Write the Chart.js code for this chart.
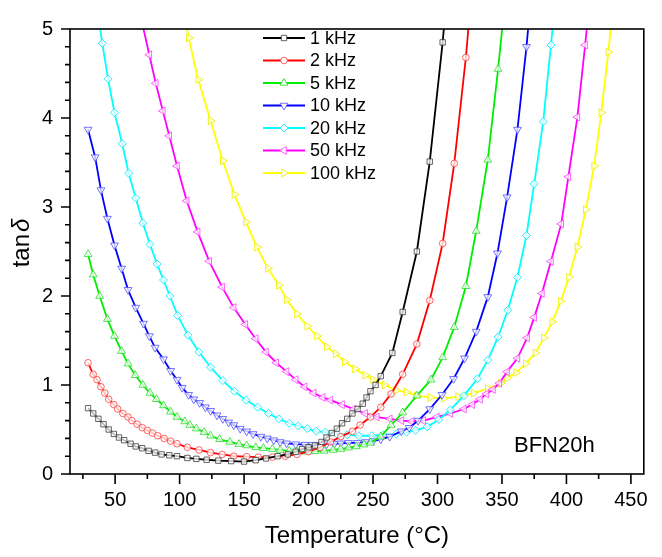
<!DOCTYPE html>
<html>
<head>
<meta charset="utf-8">
<script src="https://cdn.jsdelivr.net/npm/chart.js@4.4.1/dist/chart.umd.min.js"></script>
<style>
  html, body { margin: 0; padding: 0; background: #fff; }
  canvas { display: block; }
</style>
</head>
<body>
<canvas id="grafico" width="662" height="557"></canvas>
<script>
// Frequências (legenda)
const freqLabels = ['1 kHz', '2 kHz', '5 kHz', '10 kHz', '20 kHz', '50 kHz', '100 kHz'];

// Temperatura (°C) e tan δ, uma série por frequência
const temp1k = [29,33,37,41,45,49,53,57,62,66,71,76,81,86,92,98,106,113,121,130,140,150,159,167,176,184,190,195,200,205,210,214,218,222,226,230,234,238,242,245,248,252,256,265,273,284,294,304,312];
const tan1k  = [0.74,0.68,0.62,0.56,0.50,0.45,0.41,0.38,0.34,0.31,0.29,0.26,0.24,0.22,0.21,0.20,0.18,0.17,0.16,0.15,0.145,0.14,0.155,0.175,0.20,0.22,0.25,0.28,0.30,0.32,0.36,0.41,0.46,0.51,0.57,0.62,0.68,0.73,0.79,0.86,0.93,1.00,1.10,1.36,1.82,2.50,3.51,4.85,6.2];

const temp2k = [29,33,36,39,42,45,49,52,56,60,63,67,71,75,79,83,88,93,98,106,115,124,133,142,152,161,172,182,191,200,209,217,225,234,240,248,256,264,273,284,294,304,313,322,330];
const tan2k  = [1.25,1.12,1.06,0.98,0.91,0.84,0.78,0.73,0.68,0.64,0.60,0.56,0.52,0.49,0.46,0.43,0.40,0.37,0.34,0.30,0.27,0.24,0.22,0.20,0.195,0.19,0.19,0.20,0.22,0.25,0.30,0.36,0.42,0.48,0.55,0.64,0.75,0.90,1.12,1.46,1.95,2.59,3.49,4.68,6.0];

const temp5k = [29,33,38,44,49.5,55,60,65.5,71.5,77,82,87.5,93,98,104,108,113,119,124,131,139,146,152,159,165,172,178,185,191,198,205,212,219,225,231,237,243,248,256,264,273,284,295,304,313,322,330,339,347,355];
const tan5k  = [2.47,2.24,2.00,1.74,1.55,1.38,1.24,1.11,1.00,0.91,0.84,0.77,0.70,0.64,0.59,0.55,0.51,0.47,0.43,0.39,0.36,0.335,0.32,0.30,0.29,0.28,0.27,0.26,0.255,0.25,0.255,0.26,0.27,0.28,0.295,0.31,0.33,0.35,0.42,0.55,0.69,0.88,1.06,1.31,1.65,2.11,2.73,3.53,4.55,5.7];

const temp10k = [29,34.5,39,44,49.5,55,60,66,72,76.5,81,87.5,93,98,102,107,111,115.5,120,124,129,133.5,138,142,147,152,157,163,168,173,178,183,190,197,203,209,214,220,225,231,238,244,250,256,263,272,278,285,294,303.5,312.5,321,330,339,346.5,354,362,369,376];
const tan10k  = [3.87,3.56,3.19,2.87,2.57,2.31,2.07,1.87,1.69,1.55,1.42,1.29,1.16,1.06,0.97,0.89,0.84,0.80,0.75,0.71,0.66,0.62,0.58,0.55,0.51,0.48,0.45,0.42,0.40,0.38,0.36,0.345,0.335,0.33,0.33,0.33,0.335,0.34,0.345,0.35,0.35,0.36,0.37,0.39,0.42,0.48,0.52,0.60,0.73,0.89,1.07,1.30,1.60,1.99,2.48,3.11,3.87,4.80,5.9];

const temp20k = [35,40,44.5,49.5,55.5,60.5,66,71.5,77,82.5,87.5,92.5,98.5,106.5,115,124,133.5,142.5,151.5,160.5,169,177,185,192,199,206,213,222,230,239,249,258,268,276,283,292,301,310,320.5,331,339,347,354.5,362,369,375,382,388,394];
const tan20k  = [5.35,4.84,4.44,4.06,3.71,3.38,3.10,2.82,2.58,2.36,2.18,2.00,1.78,1.56,1.37,1.20,1.05,0.93,0.83,0.75,0.68,0.62,0.57,0.54,0.51,0.48,0.47,0.45,0.44,0.43,0.43,0.44,0.45,0.47,0.49,0.53,0.61,0.72,0.88,1.07,1.28,1.54,1.84,2.21,2.68,3.26,3.96,4.82,5.7];

const temp50k = [70,76.5,81.5,87,92,98,105.5,114,123,133,142,151,159,167,175,183,190,197,204,211,217,226,235,244,253,263,272,280,289,299.5,310,320.5,327,333,338,343,348,354,362,369.5,375,381,388,396,401.5,408.5,414.5,420];
const tan50k  = [5.13,4.71,4.39,4.08,3.80,3.46,3.07,2.72,2.39,2.10,1.87,1.68,1.52,1.37,1.25,1.15,1.06,0.98,0.91,0.86,0.83,0.78,0.73,0.68,0.64,0.62,0.60,0.59,0.60,0.64,0.68,0.73,0.78,0.84,0.90,0.95,1.02,1.15,1.30,1.53,1.76,2.03,2.39,2.81,3.34,4.01,4.82,5.6];

const temp100k = [103,107,114.5,124,133.5,142.5,151.5,160,168.5,177,183,191,199,206.5,214,221,228,236,244,250,259,268,276,284,294.5,305,316,328,339,349,354,361,368.5,376,382.5,389,395.5,402,408.5,415,421.5,427,432.5,437];
const tan100k  = [5.25,4.90,4.43,3.97,3.52,3.14,2.83,2.55,2.31,2.12,1.96,1.80,1.66,1.55,1.43,1.35,1.26,1.18,1.11,1.06,1.00,0.94,0.92,0.88,0.86,0.85,0.87,0.91,0.96,1.02,1.08,1.14,1.24,1.36,1.53,1.71,1.94,2.21,2.55,2.97,3.46,4.06,4.74,5.4];

const FONTE = "'Liberation Sans', Arial, Helvetica, sans-serif";

// Estilo de cada curva: cor, marcador, rotação
const estilos = [
  { cor: '#000000', marca: 'rgba(60,60,60,0.8)',   forma: 'rect',     rot: 0,   raio: 3.8 },
  { cor: '#ff0000', marca: 'rgba(255,60,60,0.8)',  forma: 'circle',   rot: 0,   raio: 3.3 },
  { cor: '#00ee00', marca: 'rgba(40,220,40,0.8)',  forma: 'triangle', rot: 0,   raio: 4.5 },
  { cor: '#0000ff', marca: 'rgba(80,80,255,0.8)',  forma: 'triangle', rot: 180, raio: 4.5 },
  { cor: '#00ffff', marca: 'rgba(0,235,255,0.85)', forma: 'rectRot',  rot: 0,   raio: 4 },
  { cor: '#ff00ff', marca: 'rgba(255,60,255,0.8)', forma: 'triangle', rot: 270, raio: 4.5 },
  { cor: '#ffff00', marca: 'rgba(240,240,0,0.9)',  forma: 'triangle', rot: 90,  raio: 4.5 }
];

const temps = [temp1k, temp2k, temp5k, temp10k, temp20k, temp50k, temp100k];
const tans  = [tan1k, tan2k, tan5k, tan10k, tan20k, tan50k, tan100k];

const datasets = freqLabels.map((label, i) => ({
  label: label,
  data: temps[i].map((t, j) => ({ x: t, y: tans[i][j] })),
  borderColor: estilos[i].cor,
  borderWidth: 1.8,
  pointStyle: estilos[i].forma,
  pointRotation: estilos[i].rot,
  pointRadius: estilos[i].raio,
  pointBorderWidth: 1,
  pointBorderColor: estilos[i].marca,
  pointBackgroundColor: 'rgba(255,255,255,0.75)',
  tension: 0,
  fill: false
}));

// Moldura, marcas maiores/menores e títulos dos eixos
const eixosPlugin = {
  id: 'eixos',
  afterDraw(chart) {
    const ctx = chart.ctx;
    const a = chart.chartArea;
    const sx = chart.scales.x, sy = chart.scales.y;
    ctx.save();
    ctx.strokeStyle = '#000';
    ctx.lineWidth = 1.6;
    ctx.strokeRect(a.left, a.top, a.right - a.left, a.bottom - a.top);

    ctx.beginPath();
    for (let v = 25; v <= 450; v += 25) {
      const px = sx.getPixelForValue(v);
      const len = v % 50 === 0 ? 10 : 5;
      ctx.moveTo(px, a.bottom);
      ctx.lineTo(px, a.bottom + len);
    }
    for (let k = 0; k <= 25; k++) {
      const v = k / 5;
      const py = sy.getPixelForValue(v);
      const len = k % 5 === 0 ? 9 : 5;
      ctx.moveTo(a.left, py);
      ctx.lineTo(a.left - len, py);
    }
    ctx.stroke();

    // título do eixo x
    ctx.fillStyle = '#000';
    ctx.font = '24px ' + FONTE;
    ctx.textAlign = 'center';
    ctx.textBaseline = 'middle';
    ctx.fillText('Temperature (°C)', (a.left + a.right) / 2, 536);

    // título do eixo y: tan + δ itálico
    ctx.translate(22, 243);
    ctx.rotate(-Math.PI / 2);
    ctx.font = '24px ' + FONTE;
    const wTan = ctx.measureText('tan').width;
    ctx.font = 'italic 24px ' + FONTE;
    const wDelta = ctx.measureText('δ').width;
    const total = wTan + 2 + wDelta;
    ctx.textAlign = 'left';
    ctx.font = '24px ' + FONTE;
    ctx.fillText('tan', -total / 2, 0);
    ctx.font = 'italic 24px ' + FONTE;
    ctx.fillText('δ', -total / 2 + wTan + 2, 0);
    ctx.restore();

    // rótulo da amostra
    ctx.save();
    ctx.fillStyle = '#000';
    ctx.font = '22px ' + FONTE;
    ctx.textAlign = 'left';
    ctx.textBaseline = 'middle';
    ctx.fillText('BFN20h', 514, 446);
    ctx.restore();
  }
};

// Legenda desenhada dentro da área do gráfico
const legendaPlugin = {
  id: 'legenda',
  afterDraw(chart) {
    const ctx = chart.ctx;
    ctx.save();
    chart.data.datasets.forEach((ds, i) => {
      const y = 38 + i * 22.5;
      ctx.strokeStyle = ds.borderColor;
      ctx.lineWidth = 1.8;
      ctx.beginPath();
      ctx.moveTo(263, y);
      ctx.lineTo(305, y);
      ctx.stroke();
      ctx.fillStyle = '#fff';
      ctx.strokeStyle = ds.pointBorderColor;
      ctx.lineWidth = 1;
      Chart.helpers.drawPoint(ctx, {
        pointStyle: ds.pointStyle,
        rotation: ds.pointRotation,
        radius: ds.pointRadius,
        borderWidth: 1
      }, 284, y);
      ctx.fillStyle = '#000';
      ctx.font = '18px ' + FONTE;
      ctx.textAlign = 'left';
      ctx.textBaseline = 'middle';
      ctx.fillText(ds.label, 310, y + 1);
    });
    ctx.restore();
  }
};

new Chart(document.getElementById('grafico').getContext('2d'), {
  type: 'line',
  data: { datasets: datasets },
  options: {
    responsive: false,
    animation: false,
    devicePixelRatio: 1,
    layout: { padding: { top: 13, right: 18, left: 0, bottom: 0 } },
    plugins: {
      legend: { display: false },
      tooltip: { enabled: false }
    },
    scales: {
      x: {
        type: 'linear',
        min: 15,
        max: 460,
        afterFit: (s) => { s.height = 83; },
        grid: { display: false, drawTicks: false },
        border: { display: false },
        ticks: {
          stepSize: 50,
          includeBounds: false,
          autoSkip: false,
          maxRotation: 0,
          padding: 14,
          color: '#000',
          font: { family: FONTE, size: 20 }
        }
      },
      y: {
        min: 0,
        max: 5,
        afterFit: (s) => { s.width = 70; },
        grid: { display: false, drawTicks: false },
        border: { display: false },
        ticks: {
          stepSize: 1,
          padding: 17,
          color: '#000',
          font: { family: FONTE, size: 20 }
        }
      }
    }
  },
  plugins: [eixosPlugin, legendaPlugin]
});
</script>
</body>
</html>
